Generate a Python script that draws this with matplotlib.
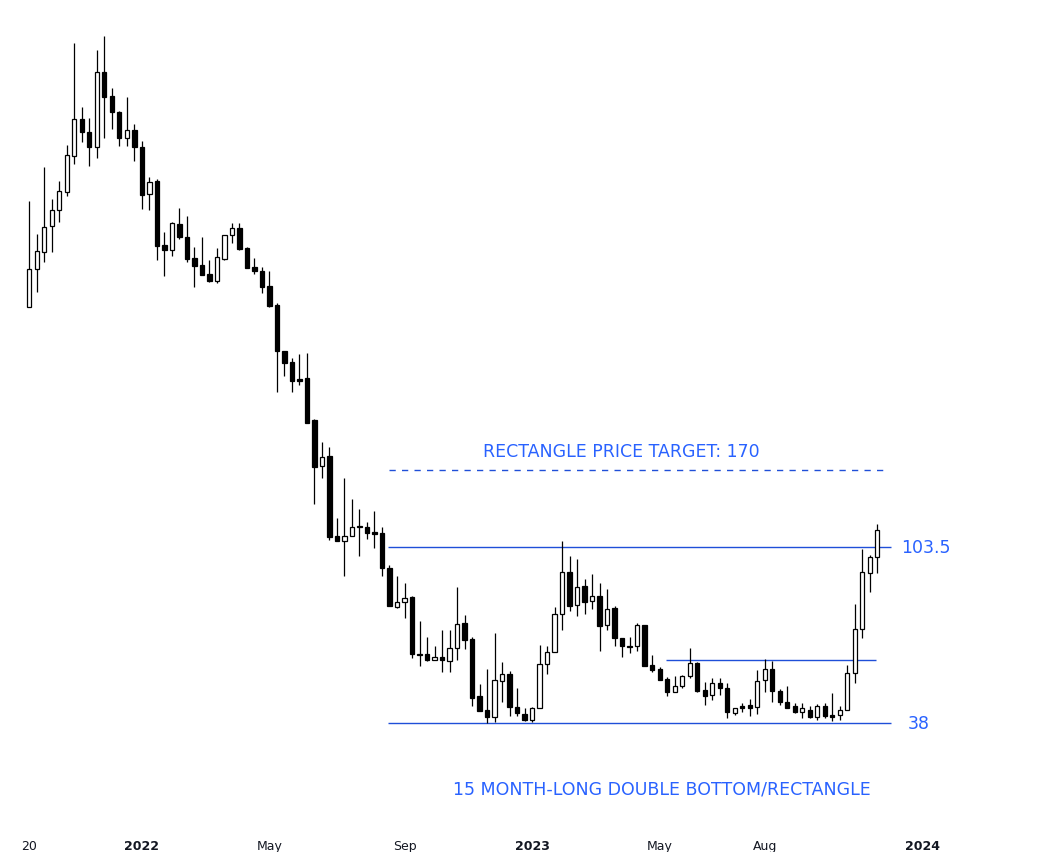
import matplotlib
matplotlib.use("Agg")
import matplotlib.pyplot as plt
import matplotlib.dates as mdates
import pandas as pd
import numpy as np

# ---------------- data (weekly candles) ----------------
first_week = "2021-09-20"
n_weeks = 114

opens = [406.1, 504.2, 555.4, 644.1, 705.5, 781.6, 959.5, 1184.5, 1099.9, 1009.9,
         1547.9, 1350.3, 1232.7, 1063.1, 1112.5, 1009.9, 772.8, 832.2, 578.0, 561.8,
         651.4, 605.0, 536.8, 515.8, 490.0, 470.9, 533.7, 611.9, 636.8, 568.2,
         510.0, 498.5, 457.7, 410.7, 316.1, 296.9, 269.5, 271.0, 213.4, 164.2,
         173.8, 110.2, 107.1, 110.2, 116.7, 116.0, 112.8, 112.1, 91.86, 73.57,
         75.69, 77.88, 56.29, 56.29, 54.40, 55.34, 54.09, 58.25, 67.16, 61.31,
         44.32, 40.92, 39.32, 48.27, 50.23, 41.63, 40.00, 38.65, 41.39, 53.18,
         56.93, 70.69, 89.79, 74.42, 82.91, 76.12, 78.32, 66.40, 73.15, 61.66,
         58.91, 58.91, 66.40, 52.88, 51.68, 48.82, 45.34, 46.91, 49.66, 53.48,
         45.86, 44.58, 47.72, 46.38, 40.23, 41.87, 42.11, 41.63, 48.54, 51.68,
         45.60, 42.83, 41.87, 40.46, 40.92, 39.32, 41.87, 39.77, 39.77, 40.92,
         50.52, 64.90, 89.28, 97.81]
highs = [742.6, 615.4, 901.2, 751.1, 832.2, 1021.5, 1825.9, 1268.3, 1191.3, 1754.5,
         1900.2, 1413.2, 1239.7, 1342.6, 1151.2, 1045.0, 851.4, 841.7, 622.4, 658.9,
         713.6, 681.8, 571.5, 605.0, 530.7, 568.2, 611.9, 655.2, 655.2, 571.5,
         536.8, 510.0, 498.5, 415.4, 316.1, 303.7, 310.7, 312.5, 214.6, 188.3,
         183.0, 122.1, 153.4, 136.1, 128.5, 119.4, 127.1, 116.0, 93.44, 87.77,
         84.34, 78.32, 67.93, 62.01, 58.91, 64.53, 64.53, 82.44, 70.29, 62.01,
         47.45, 51.68, 63.44, 53.79, 51.10, 46.38, 41.39, 41.63, 59.25, 58.91,
         73.57, 107.1, 98.36, 96.70, 86.28, 88.78, 84.34, 81.51, 73.99, 61.66,
         62.01, 67.16, 66.40, 55.97, 52.28, 49.38, 49.66, 49.94, 58.25, 53.79,
         47.99, 49.10, 49.10, 47.72, 41.39, 42.59, 43.57, 51.39, 54.71, 54.09,
         46.12, 46.91, 42.59, 42.59, 41.87, 42.35, 42.59, 45.08, 41.87, 52.88,
         74.84, 102.37, 98.93, 118.03]
lows = [406.1, 442.3, 524.7, 555.4, 658.9, 764.0, 916.8, 1039.1, 906.4, 948.6,
        1063.1, 1118.9, 1015.7, 1015.7, 932.5, 709.5, 705.5, 530.7, 484.5, 542.9,
        598.1, 524.7, 455.1, 487.3, 468.2, 465.6, 530.7, 584.6, 561.8, 507.1,
        490.0, 439.8, 406.1, 250.3, 274.1, 250.3, 260.5, 209.8, 132.3, 153.4,
        107.7, 107.1, 87.77, 110.2, 98.36, 108.4, 102.95, 87.77, 73.99, 73.15,
        69.10, 55.03, 52.58, 54.09, 54.40, 50.81, 50.81, 54.40, 57.92, 41.87,
        40.69, 38.00, 38.22, 42.83, 39.55, 39.55, 38.44, 38.22, 41.39, 50.23,
        56.93, 64.53, 71.92, 69.89, 70.69, 72.74, 57.26, 64.53, 58.91, 55.34,
        56.61, 57.26, 52.58, 50.81, 48.54, 44.32, 45.34, 46.38, 49.10, 45.34,
        42.11, 43.32, 44.58, 39.10, 39.77, 40.46, 39.55, 40.00, 45.34, 42.83,
        42.11, 41.39, 40.23, 39.10, 39.10, 38.65, 39.10, 38.44, 38.65, 40.92,
        47.72, 61.66, 80.13, 89.28]
closes = [504.2, 558.6, 640.4, 705.5, 786.1, 965.0, 1184.5, 1099.9, 1009.9, 1547.9,
          1342.6, 1232.7, 1063.1, 1112.5, 1009.9, 768.4, 827.4, 574.7, 561.8, 655.2,
          605.0, 533.7, 512.9, 487.3, 470.9, 539.8, 611.9, 636.8, 565.0, 507.1,
          498.5, 455.1, 408.4, 316.1, 295.2, 266.4, 266.4, 209.8, 163.3, 172.8,
          109.6, 107.1, 110.2, 116.0, 116.0, 112.1, 111.5, 91.86, 73.99, 75.69,
          77.43, 56.29, 55.97, 54.40, 55.34, 54.40, 58.25, 66.78, 60.96, 43.82,
          40.69, 39.32, 48.54, 50.23, 41.63, 40.23, 38.65, 41.39, 53.18, 56.93,
          70.69, 89.79, 73.99, 82.44, 75.69, 78.32, 66.02, 72.74, 61.66, 58.91,
          58.58, 66.40, 52.58, 51.39, 48.54, 45.34, 46.91, 49.66, 53.48, 45.60,
          44.32, 47.72, 46.38, 40.46, 41.39, 41.39, 41.39, 48.27, 51.68, 45.60,
          42.83, 41.39, 40.46, 41.39, 39.32, 41.87, 39.55, 39.32, 40.92, 50.52,
          64.90, 89.79, 97.81, 114.06]

# annotation levels
resistance = 103.5
support = 38.0
neckline = 54.4
target_line = 160.5
target_label = "RECTANGLE PRICE TARGET: 170"
pattern_label = "15 MONTH-LONG DOUBLE BOTTOM/RECTANGLE"
rect_start, rect_end = "2022-08-21", "2023-12-03"
neck_start, neck_end = "2023-05-07", "2023-11-19"
target_start, target_end = "2022-08-22", "2023-12-01"

tick_dates = ["2021-09-20", "2022-01-03", "2022-05-02", "2022-09-05",
              "2023-01-02", "2023-05-01", "2023-08-07", "2024-01-01"]
tick_labels = ["20", "2022", "May", "Sep", "2023", "May", "Aug", "2024"]
bold_ticks = {"2022", "2023", "2024"}

# ---------------- plot ----------------
BLUE_TXT = "#2962ff"
BLUE_LN = "#1f4fd8"

dates = pd.date_range(first_week, periods=n_weeks, freq="7D")
x = mdates.date2num(dates)
o = np.array(opens); h = np.array(highs); l = np.array(lows); c = np.array(closes)

fig = plt.figure(figsize=(10.37, 8.53), dpi=100)
ax = fig.add_axes([0, 23 / 853, 1, 830 / 853])
ax.set_yscale("log")
ax.set_xlim(x[0] - 27.33, x[0] + 940.0)
ax.set_ylim(20.78, 2346.6)

ax.vlines(x, l, h, color="black", lw=0.9, zorder=2)
up = c >= o
dn = ~up
ax.bar(x[up], (c - o)[up], bottom=o[up], width=4.0, facecolor="white",
       edgecolor="black", linewidth=0.9, zorder=3)
ax.bar(x[dn], (o - c)[dn], bottom=c[dn], width=4.0, facecolor="black",
       edgecolor="black", linewidth=0.9, zorder=3)

d = lambda s: mdates.date2num(pd.Timestamp(s))
ax.hlines([resistance, support], d(rect_start), d(rect_end), color=BLUE_LN, lw=1.0, zorder=1)
ax.hlines(neckline, d(neck_start), d(neck_end), color=BLUE_LN, lw=1.0, zorder=1)
ax.hlines(target_line, d(target_start), d(target_end), color=BLUE_LN, lw=1.0,
          linestyles=(0, (4.5, 4.5)), zorder=1)

ax.text(d("2023-03-26"), 178.9, target_label, color=BLUE_TXT, fontsize=12.5,
        ha="center", va="center")
ax.text(d("2023-05-03"), 26.24, pattern_label, color=BLUE_TXT, fontsize=12.5,
        ha="center", va="center")
ax.text(d("2024-01-04"), resistance, "103.5", color=BLUE_TXT, fontsize=12.5,
        ha="center", va="center")
ax.text(d("2023-12-29"), support, "38", color=BLUE_TXT, fontsize=12.5,
        ha="center", va="center")

ax.set_xticks([d(t) for t in tick_dates])
ax.set_xticklabels(tick_labels)
for lab in ax.get_xticklabels():
    lab.set_color("#131722")
    lab.set_fontsize(9)
    if lab.get_text() in bold_ticks:
        lab.set_fontweight("bold")
ax.tick_params(axis="x", length=0, pad=7)
ax.set_yticks([])
ax.yaxis.set_minor_locator(matplotlib.ticker.NullLocator())
ax.set_yticklabels([])
for s in ax.spines.values():
    s.set_visible(False)

fig.savefig("out.png", dpi=100, facecolor="white")
